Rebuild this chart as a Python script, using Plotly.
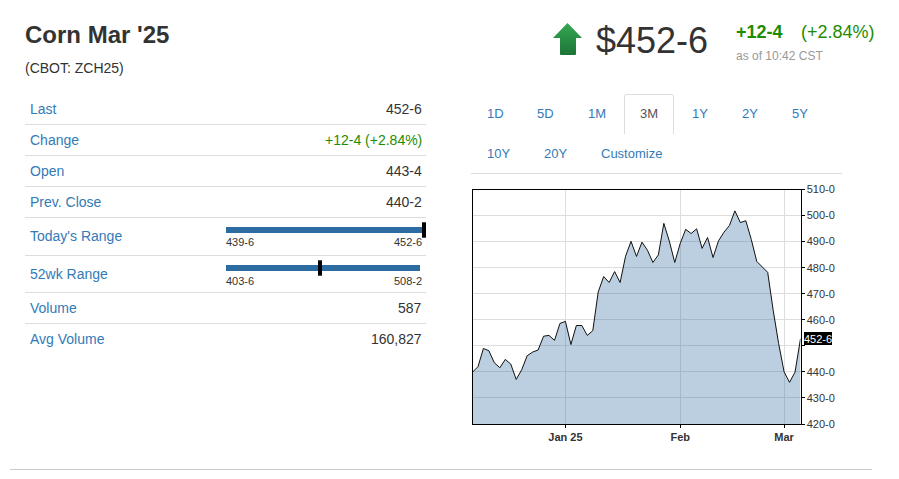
"""
Corn Mar '25 quote panel: price stats on the left, 3M area chart on the right.
"""
import base64

import plotly.graph_objs as go

W = 899
H = 479

trade_days = [
    "2024-12-06", "2024-12-09", "2024-12-10", "2024-12-11", "2024-12-12", "2024-12-13",
    "2024-12-16", "2024-12-17", "2024-12-18", "2024-12-19", "2024-12-20", "2024-12-23",
    "2024-12-24", "2024-12-26", "2024-12-27", "2024-12-30", "2024-12-31", "2025-01-02",
    "2025-01-03", "2025-01-06", "2025-01-07", "2025-01-08", "2025-01-09", "2025-01-10",
    "2025-01-13", "2025-01-14", "2025-01-15", "2025-01-16", "2025-01-17", "2025-01-21",
    "2025-01-22", "2025-01-23", "2025-01-24", "2025-01-27", "2025-01-28", "2025-01-29",
    "2025-01-30", "2025-01-31", "2025-02-03", "2025-02-04", "2025-02-05", "2025-02-06",
    "2025-02-07", "2025-02-10", "2025-02-11", "2025-02-12", "2025-02-13", "2025-02-14",
    "2025-02-18", "2025-02-19", "2025-02-20", "2025-02-21", "2025-02-24", "2025-02-25",
    "2025-02-26", "2025-02-27", "2025-02-28", "2025-03-03", "2025-03-04", "2025-03-05",
    "2025-03-06",
]
closes = [
    439.9, 442.0, 449.0, 448.1, 443.5, 441.6, 444.8, 443.0, 437.1, 440.8,
    446.2, 447.6, 448.4, 453.7, 454.0, 452.1, 458.6, 459.4, 450.5, 457.8,
    457.8, 454.0, 455.8, 470.7, 476.6, 474.3, 478.5, 474.3, 484.4, 490.1,
    484.3, 489.8, 486.7, 482.0, 484.9, 497.0, 490.2, 482.0, 489.3, 494.7,
    493.1, 494.9, 487.4, 491.6, 483.9, 490.3, 493.6, 496.2, 501.8, 497.3,
    498.0, 490.8, 482.4, 480.1, 478.2, 463.7, 450.9, 440.0, 436.0, 439.9,
    452.75,
]
month_ticks = ["2025-01-02", "2025-02-03", "2025-03-03"]
month_labels = ["<b>Jan 25</b>", "<b>Feb</b>", "<b>Mar</b>"]
price_ticks = [420, 430, 440, 450, 460, 470, 480, 490, 500, 510]
price_labels = ["420-0", "430-0", "440-0", "", "460-0", "470-0", "480-0", "490-0", "500-0", "510-0"]

last_price = 452.75
last_label = "452-6"
today_low, today_high = 439.75, 452.75
year_low, year_high = 403.75, 508.25

stat_names = ["Last", "Change", "Open", "Prev. Close", "Today's Range", "52wk Range", "Volume", "Avg Volume"]
stat_values = ["452-6", "+12-4 (+2.84%)", "443-4", "440-2", "", "", "587", "160,827"]
stat_y = [109, 140, 171, 202, 236, 274, 308, 339]
rule_y = [124.5, 155.5, 186.5, 217.5, 255.5, 292.5, 323.5]

tab_row1 = ["1D", "5D", "1M", "3M", "1Y", "2Y", "5Y"]
tab_row1_x = [495.5, 545, 597, 649, 700, 750, 799.5]
tab_row2 = ["10Y", "20Y", "Customize"]
tab_row2_x = [498.5, 555, 631.5]

FONT = "Liberation Sans"
BLUE = "#337ab7"
DARK = "#333333"
GREEN = "#1e8c00"
RULE = "#dddddd"


def px(x):
    return x / W


def py(y):
    return 1 - y / H


def label(text, x, y, size=14, color=DARK, anchor="left", bold=False):
    return dict(
        text=f"<b>{text}</b>" if bold else text,
        x=px(x), y=py(y), xref="paper", yref="paper",
        xanchor=anchor, yanchor="middle", showarrow=False, borderpad=0, borderwidth=0,
        font=dict(family=FONT, size=size, color=color),
    )


def hline(x0, x1, y, color=RULE):
    return dict(type="line", xref="paper", yref="paper", x0=px(x0), x1=px(x1), y0=py(y), y1=py(y),
                line=dict(color=color, width=1))


arrow_svg = (
    '<svg xmlns="http://www.w3.org/2000/svg" width="29" height="32" viewBox="0 0 29 32">'
    '<defs><linearGradient id="g" x1="0" y1="0" x2="0" y2="1">'
    '<stop offset="0" stop-color="#35a853"/><stop offset="1" stop-color="#1d7438"/>'
    '</linearGradient></defs>'
    '<path d="M14.5 0 L29 15 L23 15 L23 31 Q23 32 22 32 L8 32 Q7 32 7 31 L7 15 L0 15 Z" fill="url(#g)"/>'
    '</svg>'
)
arrow_src = "data:image/svg+xml;base64," + base64.b64encode(arrow_svg.encode()).decode()

fig = go.Figure()

fig.add_trace(go.Scatter(
    x=trade_days, y=closes, mode="lines", fill="tozeroy",
    fillcolor="rgba(44,107,160,0.32)", line=dict(color="#111111", width=1),
    hoverinfo="skip", showlegend=False,
))

# range bars get their own small axes so the marker sits on a real scale
fig.add_trace(go.Bar(x=[today_high - today_low], base=[today_low], y=[0], orientation="h", width=1,
                     marker=dict(color="#2d6ca2", line=dict(width=0)), xaxis="x2", yaxis="y2",
                     showlegend=False, hoverinfo="skip"))
fig.add_trace(go.Scatter(x=[last_price], y=[0], mode="markers", cliponaxis=False, xaxis="x2", yaxis="y2",
                         marker=dict(symbol="line-ns", size=11, line=dict(width=4, color="black")),
                         showlegend=False, hoverinfo="skip"))
fig.add_trace(go.Bar(x=[year_high - year_low], base=[year_low], y=[0], orientation="h", width=1,
                     marker=dict(color="#2d6ca2", line=dict(width=0)), xaxis="x3", yaxis="y3",
                     showlegend=False, hoverinfo="skip"))
# the page draws this marker from its left edge, hence the axes nudged by 3px
fig.add_trace(go.Scatter(x=[last_price], y=[0], mode="markers", cliponaxis=False, xaxis="x4", yaxis="y4",
                         marker=dict(symbol="line-ns", size=11, line=dict(width=4, color="black")),
                         showlegend=False, hoverinfo="skip"))

annotations = [
    label("Corn Mar '25", 25, 35, size=24, bold=True),
    label("(CBOT: ZCH25)", 25, 68, size=14),
    label("$452-6", 596, 41, size=36),
    label("+12-4", 736, 32, size=18, color=GREEN, bold=True),
    label("(+2.84%)", 801, 32, size=18, color=GREEN),
    label("as of 10:42 CST", 736, 56, size=12, color="#999999"),
    label("439-6", 226, 242.5, size=11),
    label("452-6", 422, 242.5, size=11, anchor="right"),
    label("403-6", 226, 280.5, size=11),
    label("508-2", 422, 280.5, size=11, anchor="right"),
]
for name, value, y in zip(stat_names, stat_values, stat_y):
    annotations.append(label(name, 30, y, color=BLUE))
    if value:
        annotations.append(label(value, 422, y, color=GREEN if value.startswith("+") else DARK, anchor="right"))
for name, x in zip(tab_row1, tab_row1_x):
    annotations.append(label(name, x, 113, size=13, color="#555555" if name == "3M" else BLUE, anchor="center"))
for name, x in zip(tab_row2, tab_row2_x):
    annotations.append(label(name, x, 153, size=13, color=BLUE, anchor="center"))
annotations.append(dict(
    text=last_label, x=px(804), y=last_price, xref="paper", yref="y", xanchor="left", yanchor="middle",
    showarrow=False, bgcolor="black", borderpad=0, borderwidth=0, width=28, height=13, align="left",
    font=dict(family=FONT, size=11, color="white"),
))

shapes = [hline(25, 426, y) for y in rule_y]
shapes.append(hline(471, 842, 173.5))
shapes.append(hline(10, 872, 469.5, color="#cccccc"))
shapes.append(dict(
    type="path", xref="paper", yref="paper",
    path=(f"M {px(624.5)} {py(134)} L {px(624.5)} {py(97)} Q {px(624.5)} {py(94.5)} {px(627)} {py(94.5)} "
          f"L {px(671)} {py(94.5)} Q {px(673.5)} {py(94.5)} {px(673.5)} {py(97)} L {px(673.5)} {py(134)}"),
    line=dict(color=RULE, width=1),
))

fig.update_layout(
    width=W, height=H, margin=dict(l=0, r=0, t=0, b=0, autoexpand=False), autosize=False,
    paper_bgcolor="white", plot_bgcolor="rgba(0,0,0,0)", showlegend=False, bargap=0,
    font=dict(family=FONT, size=11, color=DARK),
    annotations=annotations, shapes=shapes,
    images=[dict(source=arrow_src, xref="paper", yref="paper", x=px(553), y=py(23),
                 sizex=px(29), sizey=32 / H, xanchor="left", yanchor="top", sizing="stretch", layer="above")],
    xaxis=dict(
        type="category", categoryorder="array", categoryarray=trade_days, range=[0, 60],
        domain=[px(472.5), px(800.5)], anchor="y",
        tickmode="array", tickvals=month_ticks, ticktext=month_labels,
        tickfont=dict(family=FONT, size=11, color=DARK), ticks="outside", ticklen=3, tickcolor="black",
        showgrid=True, gridcolor=RULE, gridwidth=1, showline=True, linecolor="black", linewidth=1, mirror=True,
        zeroline=False,
    ),
    yaxis=dict(
        range=[420, 510], domain=[py(424), py(189.5)], side="right", anchor="x",
        tickmode="array", tickvals=price_ticks, ticktext=price_labels,
        tickfont=dict(family=FONT, size=11, color=DARK), ticks="outside", ticklen=3, tickcolor="black",
        showgrid=True, gridcolor=RULE, gridwidth=1, showline=True, linecolor="black", linewidth=1, mirror=True,
        zeroline=False,
    ),
    xaxis2=dict(range=[today_low, today_high], domain=[px(226), px(424)], anchor="y2", visible=False),
    yaxis2=dict(range=[-0.5, 0.5], domain=[py(233), py(227)], anchor="x2", visible=False),
    xaxis3=dict(range=[year_low, year_high], domain=[px(226), px(420)], anchor="y3", visible=False),
    yaxis3=dict(range=[-0.5, 0.5], domain=[py(271), py(265)], anchor="x3", visible=False),
    xaxis4=dict(range=[year_low, year_high], domain=[px(229), px(423)], anchor="y4", visible=False),
    yaxis4=dict(range=[-0.5, 0.5], domain=[py(271), py(265)], anchor="x4", visible=False),
)

fig.write_html("out.html", config=dict(displayModeBar=False), post_script="document.body.style.margin = '0';")
